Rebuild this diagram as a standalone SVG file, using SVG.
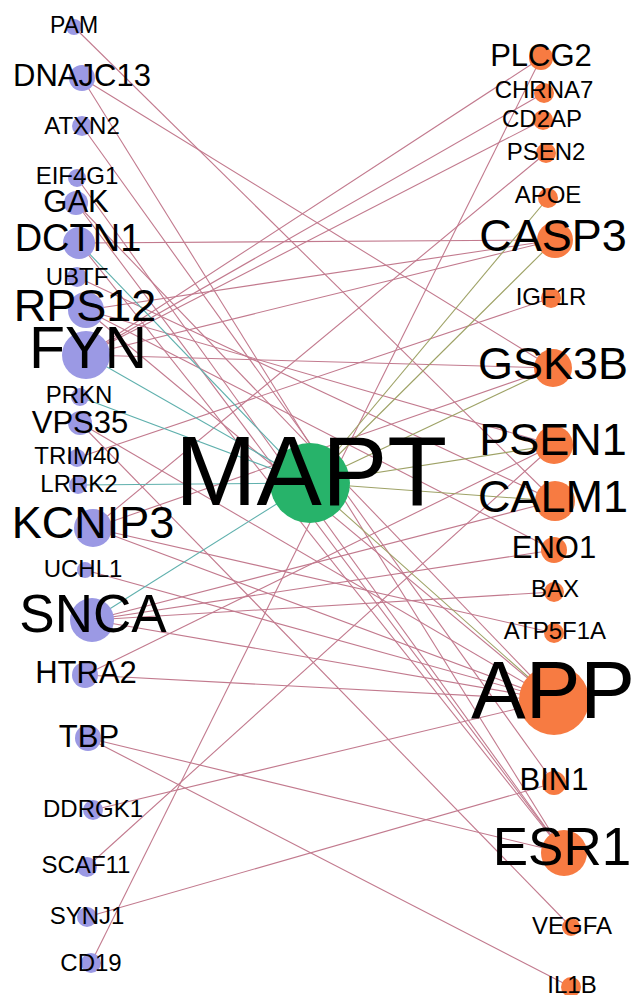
<svg xmlns="http://www.w3.org/2000/svg" width="636" height="995" viewBox="0 0 636 995">
<style>
.e{stroke:#c27a8e;stroke-width:1.1;fill:none}
.t{stroke:#5fb0ad;stroke-width:1.1;fill:none}
.o{stroke:#9ea266;stroke-width:1.1;fill:none}
.l{fill:#9b99e4}
.r{fill:#f77b42}
.m{fill:#27b36a}
text{font-family:"Liberation Sans",Arial,sans-serif;fill:#000;text-anchor:middle}
</style>
<rect width="636" height="995" fill="#fff"/>
<g id="edges">
<line class="e" x1="74" y1="27" x2="555" y2="501"/>
<line class="e" x1="82" y1="78" x2="553" y2="368"/>
<line class="e" x1="82" y1="78" x2="564" y2="853"/>
<line class="e" x1="82" y1="126" x2="554" y2="783"/>
<line class="e" x1="77" y1="178" x2="564" y2="853"/>
<line class="e" x1="76" y1="203" x2="564" y2="853"/>
<line class="e" x1="76" y1="203" x2="554" y2="700"/>
<line class="e" x1="79" y1="243" x2="555" y2="240"/>
<line class="e" x1="79" y1="243" x2="564" y2="853"/>
<line class="e" x1="77" y1="277" x2="555" y2="501"/>
<line class="e" x1="86" y1="310" x2="555" y2="240"/>
<line class="e" x1="86" y1="310" x2="554" y2="445"/>
<line class="e" x1="86" y1="310" x2="554" y2="550"/>
<line class="e" x1="86" y1="310" x2="554" y2="700"/>
<line class="e" x1="86" y1="355" x2="541" y2="58"/>
<line class="e" x1="86" y1="355" x2="544" y2="93"/>
<line class="e" x1="86" y1="355" x2="543" y2="120"/>
<line class="e" x1="86" y1="355" x2="555" y2="240"/>
<line class="e" x1="86" y1="355" x2="553" y2="368"/>
<line class="e" x1="80" y1="423" x2="571" y2="927"/>
<line class="e" x1="80" y1="423" x2="554" y2="700"/>
<line class="e" x1="77" y1="458" x2="551" y2="298"/>
<line class="e" x1="93" y1="528" x2="546" y2="153"/>
<line class="e" x1="93" y1="528" x2="554" y2="700"/>
<line class="e" x1="93" y1="528" x2="554" y2="633"/>
<line class="e" x1="93" y1="528" x2="553" y2="368"/>
<line class="e" x1="85" y1="570" x2="554" y2="700"/>
<line class="e" x1="92" y1="620" x2="554" y2="700"/>
<line class="e" x1="92" y1="620" x2="554" y2="592"/>
<line class="e" x1="92" y1="620" x2="554" y2="550"/>
<line class="e" x1="92" y1="620" x2="555" y2="501"/>
<line class="e" x1="85" y1="675" x2="554" y2="700"/>
<line class="e" x1="85" y1="675" x2="554" y2="445"/>
<line class="e" x1="88" y1="738" x2="564" y2="853"/>
<line class="e" x1="88" y1="738" x2="571" y2="987"/>
<line class="e" x1="93" y1="810" x2="554" y2="700"/>
<line class="e" x1="87" y1="867" x2="554" y2="445"/>
<line class="e" x1="87" y1="917" x2="554" y2="783"/>
<line class="e" x1="91" y1="963" x2="541" y2="58"/>
<line class="t" x1="79" y1="243" x2="310" y2="483"/>
<line class="t" x1="86" y1="355" x2="310" y2="483"/>
<line class="t" x1="80" y1="397" x2="310" y2="483"/>
<line class="t" x1="78" y1="485" x2="310" y2="483"/>
<line class="t" x1="92" y1="620" x2="310" y2="483"/>
<line class="o" x1="310" y1="483" x2="548" y2="198"/>
<line class="o" x1="310" y1="483" x2="555" y2="240"/>
<line class="o" x1="310" y1="483" x2="553" y2="368"/>
<line class="o" x1="310" y1="483" x2="554" y2="445"/>
<line class="o" x1="310" y1="483" x2="555" y2="501"/>
<line class="o" x1="310" y1="483" x2="554" y2="700"/>
</g>
<g id="MAPT"><circle class="m" cx="310" cy="483" r="40"/><text x="311" y="505" font-size="98">MAPT</text></g>
<g id="PAM"><circle class="l" cx="74" cy="27" r="8"/><text x="74" y="33" font-size="23">PAM</text></g>
<g id="DNAJC13"><circle class="l" cx="82" cy="78" r="13"/><text x="82" y="86" font-size="31">DNAJC13</text></g>
<g id="ATXN2"><circle class="l" cx="82" cy="126" r="10"/><text x="82" y="134" font-size="24">ATXN2</text></g>
<g id="EIF4G1"><circle class="l" cx="77" cy="178" r="9"/><text x="77" y="184" font-size="24">EIF4G1</text></g>
<g id="GAK"><circle class="l" cx="76" cy="203" r="12"/><text x="76" y="212" font-size="31">GAK</text></g>
<g id="DCTN1"><circle class="l" cx="79" cy="243" r="16"/><text x="78" y="251" font-size="38">DCTN1</text></g>
<g id="UBTF"><circle class="l" cx="77" cy="277" r="10"/><text x="77" y="285" font-size="24">UBTF</text></g>
<g id="RPS12"><circle class="l" cx="86" cy="310" r="18"/><text x="85" y="321" font-size="45">RPS12</text></g>
<g id="FYN"><circle class="l" cx="86" cy="355" r="24"/><text x="88" y="368" font-size="59">FYN</text></g>
<g id="PRKN"><circle class="l" cx="80" cy="397" r="9"/><text x="79" y="403" font-size="24">PRKN</text></g>
<g id="VPS35"><circle class="l" cx="80" cy="423" r="12"/><text x="80" y="433" font-size="31">VPS35</text></g>
<g id="TRIM40"><circle class="l" cx="77" cy="458" r="9"/><text x="77" y="464" font-size="24">TRIM40</text></g>
<g id="LRRK2"><circle class="l" cx="78" cy="485" r="9"/><text x="79" y="492" font-size="24">LRRK2</text></g>
<g id="KCNIP3"><circle class="l" cx="93" cy="528" r="19"/><text x="93" y="538" font-size="45">KCNIP3</text></g>
<g id="UCHL1"><circle class="l" cx="85" cy="570" r="8"/><text x="83" y="577" font-size="24">UCHL1</text></g>
<g id="SNCA"><circle class="l" cx="92" cy="620" r="22"/><text x="93" y="632" font-size="53">SNCA</text></g>
<g id="HTRA2"><circle class="l" cx="85" cy="675" r="13"/><text x="86" y="683" font-size="31">HTRA2</text></g>
<g id="TBP"><circle class="l" cx="88" cy="738" r="13"/><text x="89" y="747" font-size="31">TBP</text></g>
<g id="DDRGK1"><circle class="l" cx="93" cy="810" r="10"/><text x="93" y="817" font-size="24">DDRGK1</text></g>
<g id="SCAF11"><circle class="l" cx="87" cy="867" r="10"/><text x="86" y="873" font-size="24">SCAF11</text></g>
<g id="SYNJ1"><circle class="l" cx="87" cy="917" r="10"/><text x="87" y="924" font-size="24">SYNJ1</text></g>
<g id="CD19"><circle class="l" cx="91" cy="963" r="10"/><text x="91" y="971" font-size="24">CD19</text></g>
<g id="PLCG2"><circle class="r" cx="541" cy="58" r="12"/><text x="541" y="66" font-size="31">PLCG2</text></g>
<g id="CHRNA7"><circle class="r" cx="544" cy="93" r="10"/><text x="544" y="98" font-size="24">CHRNA7</text></g>
<g id="CD2AP"><circle class="r" cx="543" cy="120" r="10"/><text x="542" y="127" font-size="24">CD2AP</text></g>
<g id="PSEN2"><circle class="r" cx="546" cy="153" r="10"/><text x="546" y="160" font-size="24">PSEN2</text></g>
<g id="APOE"><circle class="r" cx="548" cy="198" r="10"/><text x="548" y="203" font-size="24">APOE</text></g>
<g id="CASP3"><circle class="r" cx="555" cy="240" r="18"/><text x="553" y="251" font-size="45">CASP3</text></g>
<g id="IGF1R"><circle class="r" cx="551" cy="298" r="10"/><text x="551" y="305" font-size="24">IGF1R</text></g>
<g id="GSK3B"><circle class="r" cx="553" cy="368" r="19"/><text x="553" y="379" font-size="45">GSK3B</text></g>
<g id="PSEN1"><circle class="r" cx="554" cy="445" r="19"/><text x="553" y="455" font-size="45">PSEN1</text></g>
<g id="CALM1"><circle class="r" cx="555" cy="501" r="20"/><text x="553" y="512" font-size="45">CALM1</text></g>
<g id="ENO1"><circle class="r" cx="554" cy="550" r="13"/><text x="554" y="558" font-size="31">ENO1</text></g>
<g id="BAX"><circle class="r" cx="554" cy="592" r="10"/><text x="555" y="597" font-size="24">BAX</text></g>
<g id="ATP5F1A"><circle class="r" cx="554" cy="633" r="10"/><text x="555" y="639" font-size="24">ATP5F1A</text></g>
<g id="APP"><circle class="r" cx="554" cy="700" r="35"/><text x="553" y="718" font-size="82">APP</text></g>
<g id="BIN1"><circle class="r" cx="554" cy="783" r="12"/><text x="554" y="790" font-size="31">BIN1</text></g>
<g id="ESR1"><circle class="r" cx="564" cy="853" r="23"/><text x="562" y="865" font-size="53">ESR1</text></g>
<g id="VEGFA"><circle class="r" cx="571" cy="927" r="9"/><text x="572" y="934" font-size="24">VEGFA</text></g>
<g id="IL1B"><circle class="r" cx="571" cy="987" r="10"/><text x="572" y="993" font-size="24">IL1B</text></g>
</svg>
